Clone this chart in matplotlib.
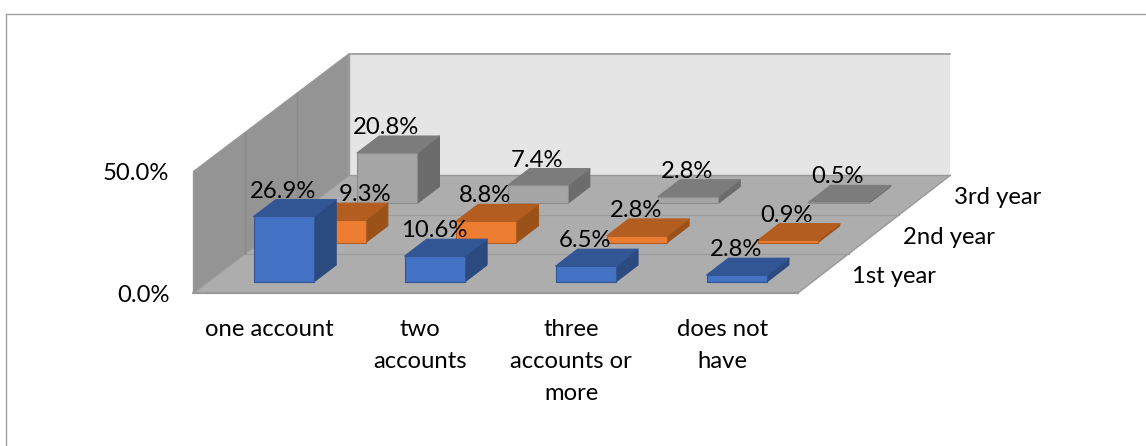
import matplotlib
matplotlib.use("Agg")
import matplotlib.pyplot as plt
from matplotlib.patches import Polygon

categories = ["one account", "two\naccounts", "three\naccounts or\nmore", "does not\nhave"]
series = ["1st year", "2nd year", "3rd year"]
first_year = [26.9, 10.6, 6.5, 2.8]
second_year = [9.3, 8.8, 2.8, 0.9]
third_year = [20.8, 7.4, 2.8, 0.5]
value_ticks = [0.0, 50.0]

colors = [
    ("#4472C4", "#325694", "#2A4A80"),
    ("#ED7D31", "#B35D20", "#9A5219"),
    ("#A5A5A5", "#7C7C7C", "#6C6C6C"),
]

W, H = 1146, 446
PT = 0.72  # one pixel in points at dpi 100
# oblique projection: pixels per category, per percent, per row of depth
x0, y0 = 193.5, 293.0
sx, sy = 151.1, 2.43
row_dx, row_dy = 51.8 / sx, 39.2 / sy
shrink = 0.0017  # slight narrowing towards the back
bar_w = 0.40
bar_d = 0.43


def proj(x, v, d):
    return (x * (1 - shrink * d) + d * row_dx, v + d * row_dy)


plt.rcParams["font.family"] = ["Lato", "DejaVu Sans"]
fs = 17.2

fig = plt.figure(figsize=(W / 100, H / 100), dpi=100)
ax = fig.add_axes([0, 0, 1, 1])
ax.set_xlim(-x0 / sx, (W - x0) / sx)
ax.set_ylim(-(H - y0) / sy, y0 / sy)
ax.axis("off")

# chart frame, only top and left are on the canvas
ax.plot([5.5 / W, 5.5 / W, 1 + 1 / W], [0, 1 - 13.5 / H, 1 - 13.5 / H],
        transform=fig.transFigure, color="#A0A0A0", lw=1.0, zorder=1, clip_on=False)

n_cat = len(categories)
n_row = len(series)
top = value_ticks[-1]


def face(points, fc, ec="none", lw=0.8, z=2):
    ax.add_patch(Polygon([proj(*p) for p in points], closed=True, fc=fc, ec=ec, lw=lw, zorder=z, joinstyle="round"))


# back wall, side wall, floor
face([(0, 0, n_row), (n_cat, 0, n_row), (n_cat, top, n_row), (0, top, n_row)], "#E5E5E5", z=2)
face([(0, 0, 0), (0, 0, n_row), (0, top, n_row), (0, top, 0)], "#949494", z=2)
face([(0, 0, 0), (n_cat, 0, 0), (n_cat, 0, n_row), (0, 0, n_row)], "#ADADAD", z=2)

line = "#999999"


def edge(a, b, lw=1.0, c=line, z=3):
    pa, pb = proj(*a), proj(*b)
    ax.plot([pa[0], pb[0]], [pa[1], pb[1]], color=c, lw=lw, zorder=z, solid_capstyle="round")


edge((0, 0, 0), (n_cat, 0, 0), lw=1.6)
edge((n_cat, 0, 0), (n_cat, 0, n_row))
edge((0, 0, n_row), (n_cat, 0, n_row))
edge((0, 0, 0), (0, top, 0))
edge((0, top, 0), (0, top, n_row))
edge((0, top, n_row), (n_cat, top, n_row), lw=1.4, c="#A6A6A6")
edge((0, 0, 0), (0, 0, n_row))
edge((0, 0, n_row), (0, top, n_row))
for r in range(1, n_row):
    edge((0, 0, r), (n_cat, 0, r), lw=0.9, c="#9C9C9C")
    edge((0, 0, r), (0, top, r), lw=0.9, c="#8A8A8A")

# bars, back row first
table = [first_year, second_year, third_year]
z = 4
for r in range(n_row - 1, -1, -1):
    front, upper, right = colors[r]
    d0 = r + (1 - bar_d) / 2
    d1 = d0 + bar_d
    for c in range(n_cat - 1, -1, -1):
        v = table[r][c]
        a = c + (1 - bar_w) / 2
        b = a + bar_w
        face([(b, 0, d0), (b, 0, d1), (b, v, d1), (b, v, d0)], right, ec=right, z=z)
        face([(a, v, d0), (b, v, d0), (b, v, d1), (a, v, d1)], upper, ec=upper, z=z)
        face([(a, 0, d0), (b, 0, d0), (b, v, d0), (a, v, d0)], front, ec="#8C8C8C" if r == 2 else upper, z=z)
        z += 1

# value labels sit above the back edge of each bar top
for r in range(n_row):
    d1 = r + (1 + bar_d) / 2
    for c in range(n_cat):
        v = table[r][c]
        px = proj(c + 0.5, v, r + (1 - bar_d) / 2)[0]
        shift = 31 if (r == 1 and c == 0) else 0
        ax.annotate("%.1f%%" % v, (px, proj(0, v, d1)[1]), xytext=((shift - 1) * PT, 10.5 * PT),
                    textcoords="offset points", ha="center", va="center_baseline", fontsize=fs,
                    color="black", zorder=100)

# category labels, one text per line
for c, name in enumerate(categories):
    for i, part in enumerate(name.split("\n")):
        ax.annotate(part, (c + 0.5, 0), xytext=(0, -(327 - y0 + i * 32.5) * PT), textcoords="offset points",
                    ha="center", va="center_baseline", fontsize=fs, color="black", zorder=100)
for t in value_ticks:
    ax.annotate("%.1f%%" % t, (0, t), xytext=(-24 * PT, 0), textcoords="offset points",
                ha="right", va="center_baseline", fontsize=fs, color="black", zorder=100)
for r, name in enumerate(series):
    ax.annotate(name, proj(n_cat, 0, r + 0.5), xytext=(29 * PT, -1 * PT), textcoords="offset points",
                ha="left", va="center_baseline", fontsize=fs, color="black", zorder=100)

fig.savefig("out.png", dpi=100)
